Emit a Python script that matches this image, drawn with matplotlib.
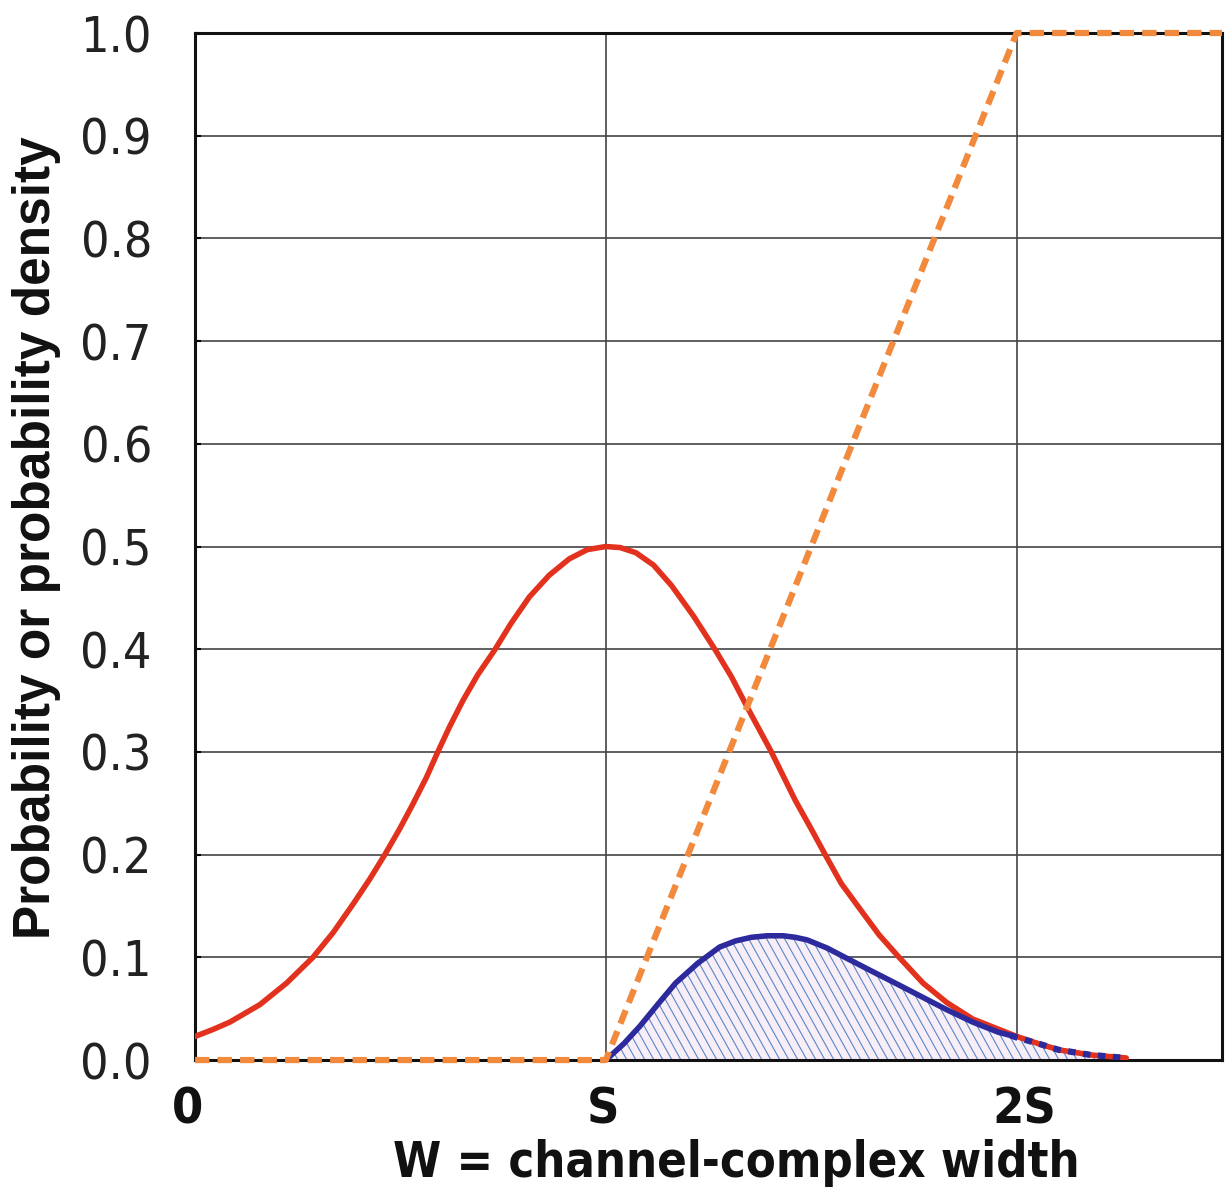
import numpy as np
import matplotlib
matplotlib.use("Agg")
from matplotlib import pyplot as plt
from matplotlib.patches import Polygon
from matplotlib import font_manager
from matplotlib.transforms import ScaledTranslation

# W in units of S
pdf_w = [0.0, 0.045, 0.085, 0.158, 0.223, 0.287, 0.336, 0.385, 0.425, 0.462,
         0.498, 0.530, 0.563, 0.591, 0.619, 0.652, 0.688, 0.729, 0.769, 0.814,
         0.862, 0.911, 0.955, 1.0, 1.035, 1.073, 1.116, 1.160, 1.214, 1.267,
         1.306, 1.345, 1.403, 1.461, 1.500, 1.534, 1.573, 1.617, 1.665, 1.714,
         1.772, 1.830, 1.893, 1.956, 2.0, 2.053, 2.102, 2.180, 2.267]
pdf_p = [0.023, 0.030, 0.037, 0.054, 0.075, 0.100, 0.124, 0.152, 0.176, 0.200,
         0.225, 0.249, 0.275, 0.300, 0.324, 0.350, 0.375, 0.399, 0.425, 0.451,
         0.472, 0.488, 0.497, 0.500, 0.499, 0.494, 0.482, 0.462, 0.432, 0.399,
         0.373, 0.343, 0.300, 0.253, 0.225, 0.200, 0.172, 0.148, 0.122, 0.100,
         0.075, 0.056, 0.040, 0.030, 0.023, 0.016, 0.010, 0.005, 0.002]

prod_w = [1.0, 1.044, 1.083, 1.126, 1.170, 1.223, 1.277, 1.316, 1.354, 1.393,
          1.432, 1.461, 1.490, 1.539, 1.587, 1.650, 1.714, 1.772, 1.830, 1.893,
          1.956, 1.985]
prod_p = [0.0, 0.016, 0.033, 0.054, 0.075, 0.094, 0.110, 0.116, 0.1195, 0.121,
          0.121, 0.1195, 0.117, 0.109, 0.099, 0.086, 0.073, 0.061, 0.049, 0.037,
          0.027, 0.024]
tail_w = [1.985, 2.0, 2.053, 2.102, 2.180, 2.267]
tail_p = [0.024, 0.022, 0.016, 0.010, 0.005, 0.002]

cdf_w = [0.0, 1.0, 2.0, 2.5]
cdf_p = [0.0, 0.0, 1.0, 1.0]

xticks = [0, 1, 2]
xtick_labels = ["0", "S", "2S"]

RED = "#e2321e"
BLUE = "#2c2a9c"
ORANGE = "#f28a3e"


def narrow(weight="normal"):
    return font_manager.FontProperties(family=["Liberation Sans Narrow", "DejaVu Sans"],
                                       stretch="condensed", weight=weight)


fig = plt.figure(figsize=(12.29, 11.92), dpi=100)
ax = fig.add_axes([0.1587, 0.1107, 0.8356, 0.8616])
ax.set_xlim(0, 2.5)
ax.set_ylim(0, 1.0)

# shaded area under the product curve
fw = prod_w + tail_w[1:]
fp = prod_p + tail_p[1:]
verts = list(zip(fw, fp)) + [(fw[-1], 0), (fw[0], 0)]
poly = Polygon(verts, closed=True, facecolor="#f7eef7", edgecolor="none", zorder=2)
ax.add_patch(poly)

# steep hatch lines clipped to the shaded area
trans = ax.transData
x_px0 = trans.transform((1.0, 0))[0]
x_px1 = trans.transform((fw[-1], 0))[0]
y_top = trans.transform((0, 0.13))[1]
y_bot = trans.transform((0, 0))[1]
h = y_top - y_bot
inv = trans.inverted()
for xs in np.arange(x_px0 - 80, x_px1 + 10, 9.0):
    p0 = inv.transform((xs, y_top))
    p1 = inv.transform((xs + h / 1.8, y_bot))
    ln, = ax.plot([p0[0], p1[0]], [p0[1], p1[1]], color="#5a86c8", lw=0.8,
                  zorder=2.5)
    ln.set_clip_path(poly)

ax.grid(True, color="#444444", lw=1.2, zorder=1)
ax.set_axisbelow(True)

ax.plot(pdf_w, pdf_p, color=RED, lw=4, solid_joinstyle="round",
        solid_capstyle="round", zorder=4)
ax.plot(prod_w, prod_p, color=BLUE, lw=4, solid_joinstyle="round",
        solid_capstyle="round", zorder=5)
ax.plot(tail_w, tail_p, color=BLUE, lw=4.5, dashes=(1.2, 1.2), zorder=5)
ax.plot(cdf_w, cdf_p, color=ORANGE, lw=4.5, dashes=(2.3, 1.3), zorder=6,
        clip_on=False)

for s in ax.spines.values():
    s.set_linewidth(2.2)
    s.set_color("#111111")
    s.set_zorder(3)

yt = np.arange(0, 1.01, 0.1)
ax.set_yticks(yt)
ax.set_yticklabels(["%.1f" % v for v in yt], fontproperties=narrow(),
                   fontsize=36, color="#222222")
ax.tick_params(axis="y", direction="in", length=4, width=1.5, pad=31,
               right=False)
ax.set_xticks(xticks)
ax.set_xticklabels(xtick_labels, fontproperties=narrow("bold"), fontsize=36,
                   color="#111111")
ax.tick_params(axis="x", length=0, pad=18)
for lab, dx in zip(ax.get_xticklabels(), [-8, -3, 8]):
    lab.set_transform(lab.get_transform() + ScaledTranslation(dx / 100, 0, fig.dpi_scale_trans))

ax.set_xlabel("W = channel-complex width", fontproperties=narrow("bold"),
              fontsize=35, color="#111111")
ax.xaxis.set_label_coords(0.527, -0.077)
ax.set_ylabel("Probability or probability density",
              family=["Liberation Sans", "DejaVu Sans"],
              fontsize=37, weight="bold", color="#111111")
ax.yaxis.set_label_coords(-0.131, 0.509)

fig.savefig("out.png", dpi=100)
